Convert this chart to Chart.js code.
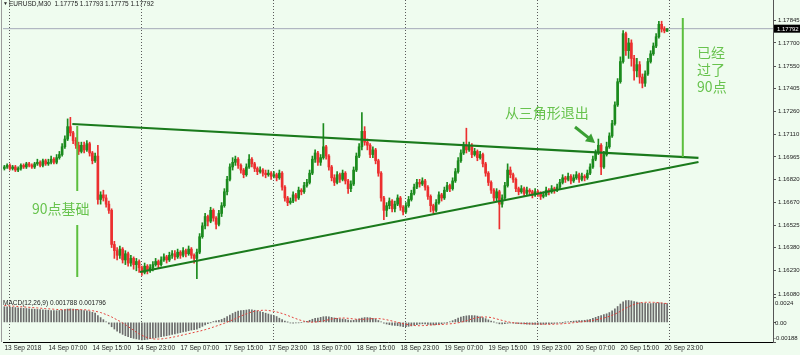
<!DOCTYPE html>
<html>
<head>
<meta charset="utf-8">
<script src="https://cdn.jsdelivr.net/npm/chart.js@4.4.0/dist/chart.umd.min.js"></script>
<style>
html, body { margin: 0; padding: 0; background: #effcef; }
#wrap { position: relative; width: 800px; height: 355px; overflow: hidden; }
#main { position: absolute; left: 0; top: 0; }
#macd { position: absolute; left: 0; top: 297px; }
#frame { position: absolute; left: 1px; top: 0; width: 1px; height: 342px; background: #9c9c9c; }
</style>
</head>
<body>
<div id="wrap">
  <canvas id="main" width="800" height="297"></canvas>
  <canvas id="macd" width="800" height="58"></canvas>
  <div id="frame"></div>
</div>
<script>
// EURUSD M30, 价格以点数记录 (价格 = 1.16000 + 点数 * 0.0001)
var BASE = 1.16
var PIP = 0.0001

var opens = [
  89,90,91,89,90,88,89,91,90,92, 91,90,92,93,91,94,92,93,95,93,
  96,98,103,108,116,112,107,104,100,104, 101,105,99,94,97,69,72,70,66,62,
  40,36,33,37,30,34,28,31,27,29, 25,22,26,23,25,27,29,27,30,32,
  30,33,34,32,35,33,36,34,37,33, 31,35,45,52,58,55,62,57,53,60,
  65,74,82,90,93,95,91,88,85,90, 95,92,89,87,88,86,85,86,84,85,
  83,86,77,70,67,68,72,70,75,74, 78,80,86,95,99,93,96,103,97,90,
  83,80,85,82,86,81,76,79,88,97, 103,113,106,104,98,101,94,86,70,62,
  65,68,63,66,70,64,61,65,69,73, 77,80,79,81,77,71,65,62,67,72,
  70,75,78,76,81,87,94,99,104,101, 104,98,100,96,98,92,86,80,75,70,
  74,66,70,78,88,85,82,76,74,76, 73,75,74,72,74,73,71,72,75,74,
  76,75,77,80,83,82,84,81,83,85, 82,84,83,86,90,95,99,104,90,98,
  103,110,118,130,145,158,176,165,170,160, 152,156,148,144,150,158,163,168,174,182,
  179,177.5
]
var highs = [
  91,92,92,91,91,90,92,92,93,93, 92,93,95,94,95,95,95,97,96,98,
  100,105,110,121,122,113,109,106,106,106, 107,106,100,99,104,74,75,72,68,63,
  42,38,39,38,36,35,33,32,31,30, 26,28,27,27,29,31,30,32,34,33,
  35,36,36,37,36,38,37,39,38,34, 37,47,54,60,59,64,63,58,62,67,
  76,84,92,96,97,96,92,89,92,98, 96,93,90,90,89,88,88,87,87,86,
  88,87,78,71,70,74,73,77,76,80, 82,88,97,101,100,98,118,104,98,91,
  85,87,86,88,87,82,81,90,99,105, 125,116,108,105,103,102,95,87,71,67,
  70,69,68,72,71,65,67,71,75,79, 82,82,83,82,78,72,66,69,74,73,
  77,80,79,83,89,96,101,106,115,106, 105,102,101,100,99,93,87,81,76,76,
  75,72,80,92,90,86,83,77,78,77, 77,76,75,76,75,74,74,77,76,78,
  77,79,82,85,84,86,85,85,87,86, 86,85,88,92,97,101,108,105,100,106,
  112,120,132,147,161,178,177,173,172,162, 160,158,150,152,160,165,170,176,184,184,
  180.5,179.3
]
var lows = [
  88,89,88,88,87,87,88,89,89,90, 89,89,91,90,90,91,91,92,92,92,
  95,97,102,107,110,105,102,98,99,99, 100,97,92,93,66,66,68,64,60,38,
  31,30,31,28,27,26,26,24,23,22, 20,21,21,22,23,26,25,26,29,28,
  29,31,30,31,31,32,32,33,31,28, 18,34,44,50,52,54,55,50,52,58,
  64,72,81,88,91,89,86,83,84,89, 90,87,85,86,84,83,84,82,83,81,
  82,75,68,65,66,67,68,69,72,73, 77,79,85,93,91,91,95,95,88,81,
  78,79,80,81,79,73,74,78,87,96, 101,104,101,96,96,92,84,68,56,58,
  63,61,61,65,62,59,60,64,68,72, 76,77,78,75,69,61,60,61,66,68,
  69,74,74,75,80,86,93,98,99,100, 96,97,94,95,90,84,78,73,68,68,
  50,64,69,77,83,80,74,72,73,71, 72,72,70,71,71,69,70,71,72,73,
  73,74,76,79,80,81,79,80,82,80, 81,81,82,85,89,94,98,85,89,97,
  102,109,117,129,144,157,162,160,155,146, 148,144,141,142,149,157,162,167,173,177,
  176.5,177.5
]
var closes = [
  90,91,89,90,88,89,91,90,92,91, 90,92,93,91,94,92,93,95,93,96,
  98,103,108,116,112,107,104,100,104,101, 105,99,94,97,69,72,70,66,62,40,
  36,33,37,30,34,28,31,27,29,25, 22,26,23,25,27,29,27,30,32,30,
  33,34,32,35,33,36,34,37,33,31, 35,45,52,58,55,62,57,53,60,65,
  74,82,90,93,95,91,88,85,90,95, 92,89,87,88,86,85,86,84,85,83,
  86,77,70,67,68,72,70,75,74,78, 80,86,95,99,93,96,103,97,90,83,
  80,85,82,86,81,76,79,88,97,103, 113,106,104,98,101,94,86,70,62,65,
  68,63,66,70,64,61,65,69,73,77, 80,79,81,77,71,65,62,67,72,70,
  75,78,76,81,87,94,99,104,101,104, 98,100,96,98,92,86,80,75,70,74,
  66,70,78,88,85,82,76,74,76,73, 75,74,72,74,73,71,72,75,74,76,
  75,77,80,83,82,84,81,83,85,82, 84,83,86,90,95,99,104,90,98,103,
  110,118,130,145,158,176,165,170,160,152, 156,148,144,150,158,163,168,174,182,179,
  177.8,179.2
]

// MACD(12,26,9), 单位 0.00001
var macdMain = [
  150,148,146,144,142,140,138,135,133,130, 128,126,124,122,120,118,116,114,113,112,
  114,118,122,128,130,128,124,120,117,114, 110,104,96,88,66,46,26,6,-16,-42,
  -64,-84,-100,-115,-128,-138,-146,-153,-158,-163, -168,-166,-162,-157,-152,-148,-143,-138,-133,-128,
  -122,-116,-110,-104,-98,-92,-86,-80,-74,-70, -64,-52,-38,-24,-12,-2,8,14,20,28,
  40,55,70,85,98,108,112,115,118,122, 120,116,110,104,96,88,80,72,64,56,
  40,26,12,2,-6,-8,-6,-4,0,4, 10,20,30,38,42,48,54,56,52,48,
  42,38,34,32,28,22,18,20,26,34, 42,46,46,44,38,30,18,4,-8,-16,
  -22,-28,-30,-32,-36,-40,-40,-38,-34,-28, -22,-16,-14,-16,-20,-22,-24,-22,-18,-14,
  -8,-2,6,16,28,40,50,58,62,66, 66,64,60,54,46,36,24,12,2,-6,
  -14,-16,-12,-8,-6,-8,-10,-12,-14,-16, -18,-18,-19,-20,-20,-19,-18,-16,-14,-12,
  -10,-7,-4,-1,2,6,9,12,14,16, 18,20,24,30,38,48,58,66,74,82,
  94,110,130,152,176,196,208,210,206,200, 194,188,184,182,180,180,182,184,186,184,
  181,178.8
]
var macdSignal = [
  162,160,158,156,154,152,150,148,146,144, 142,140,138,136,134,132,130,128,126,124,
  122,121,120,120,120,121,122,122,122,121, 119,116,112,107,101,94,85,75,64,52,
  38,24,10,-6,-22,-40,-58,-76,-94,-110, -124,-136,-146,-153,-158,-160,-160,-159,-156,-152,
  -148,-143,-138,-132,-126,-120,-114,-108,-102,-96, -90,-84,-77,-70,-62,-54,-45,-36,-27,-18,
  -9,2,13,24,36,48,60,72,82,92, 100,106,111,114,116,116,114,110,106,100,
  93,85,76,66,56,46,36,26,18,11, 6,3,2,3,6,10,15,20,26,32,
  36,39,41,42,41,39,36,33,30,29, 29,30,32,34,36,37,36,34,30,25,
  19,13,6,0,-6,-12,-18,-23,-27,-30, -32,-32,-31,-30,-28,-26,-24,-22,-21,-20,
  -18,-16,-14,-12,-8,-4,2,8,16,24, 32,40,46,50,52,52,50,46,40,33,
  26,19,12,6,1,-3,-6,-8,-10,-11, -12,-13,-14,-15,-16,-17,-17,-18,-18,-18,
  -17,-16,-15,-13,-11,-9,-6,-3,0,3, 6,9,12,15,19,24,29,35,42,50,
  58,68,79,92,106,121,136,150,162,172, 180,186,190,192,193,193,192,190,188,186,
  183,179.6
]

var timeLabels = ['13 Sep 2018','14 Sep 07:00','14 Sep 15:00','14 Sep 23:00','17 Sep 07:00','17 Sep 15:00',
  '17 Sep 23:00','18 Sep 07:00','18 Sep 15:00','18 Sep 23:00','19 Sep 07:00','19 Sep 15:00',
  '19 Sep 23:00','20 Sep 07:00','20 Sep 15:00','20 Sep 23:00']
var labelStep = 16
var daySeps = [2, 50, 98, 146, 194, 242]
var priceTicks = [1.17845,1.17700,1.17550,1.17405,1.17260,1.17110,1.16965,1.16820,1.16670,1.16525,1.16380,1.16230,1.16080]
var macdTicks = [0.0024, 0, -0.00188]

// 画线 (K线序号, 价格)
var upperLine = [[24.7, 1.17177], [252.4, 1.16958]]
var lowerLine = [[49.3, 1.16222], [252.4, 1.16932]]
var baseLine = [[26.5, 1.17164], [26.5, 1.16745], null, [26.5, 1.16525], [26.5, 1.16190]]
var doneLine = [[246.7, 1.17861], [246.7, 1.16964]]
var arrowPts = [[207.5, 1.17158], [214.8, 1.17055]]
var notes = [
  ['从三角形退出', 182.0, 1.17248],
  ['90点基础', 10.0, 1.16629],
  ['已经', 251.9, 1.17639],
  ['过了', 251.9, 1.17529],
  ['90点', 251.9, 1.17419]
]

var X_MIN = -0.5, X_MAX = 279.5
var SMALL = '"Liberation Sans", Arial, sans-serif'
var last = closes.length - 1

function price(v) { return Math.round((BASE + v * PIP) * 1e5) / 1e5 }
function toXY(arr) {
  return arr.map(function (p) { return p ? { x: p[0], y: p[1] } : { x: arr[0][0], y: null } })
}

var lastPrice = price(closes[last])
var barColors = closes.map(function (c, i) { return c >= opens[i] ? '#1b8a1d' : '#ec2f2f' })
var wickData = closes.map(function (c, i) { return { x: i, y: [price(lows[i]), price(highs[i])] } })
var bodyData = closes.map(function (c, i) { return { x: i, y: [price(opens[i]), price(c)] } })

var mainPlugin = {
  id: 'mainText',
  afterDraw: function (chart) {
    var c = chart.ctx, xs = chart.scales.x, ys = chart.scales.y
    c.save()
    // 标题
    c.fillStyle = '#222'
    c.textBaseline = 'middle'
    c.font = '5px ' + SMALL
    c.fillText('▼', 3, 4)
    c.font = '6.5px ' + SMALL
    var ohlc = [opens[last], highs[last], lows[last], closes[last]].map(function (v) { return price(v).toFixed(5) })
    c.fillText('EURUSD,M30  ' + ohlc.join(' '), 9, 4)

    // 箭头
    var x1 = xs.getPixelForValue(arrowPts[0][0]), y1 = ys.getPixelForValue(arrowPts[0][1])
    var x2 = xs.getPixelForValue(arrowPts[1][0]), y2 = ys.getPixelForValue(arrowPts[1][1])
    var ang = Math.atan2(y2 - y1, x2 - x1), dx = Math.cos(ang), dy = Math.sin(ang)
    c.strokeStyle = '#3a9f34'
    c.fillStyle = '#3a9f34'
    c.lineWidth = 3
    c.beginPath()
    c.moveTo(x1, y1)
    c.lineTo(x2 - dx * 7, y2 - dy * 7)
    c.stroke()
    c.beginPath()
    c.moveTo(x2, y2)
    c.lineTo(x2 - dx * 9 - dy * 5, y2 - dy * 9 + dx * 5)
    c.lineTo(x2 - dx * 9 + dy * 5, y2 - dy * 9 - dx * 5)
    c.closePath()
    c.fill()

    // 注释文字
    c.fillStyle = '#68c34e'
    c.font = '14px "Noto Sans CJK SC"'
    notes.forEach(function (n) {
      c.fillText(n[0], xs.getPixelForValue(n[1]), ys.getPixelForValue(n[2]))
    })

    // 当前价格标签
    var py = ys.getPixelForValue(lastPrice)
    c.fillStyle = '#000'
    c.fillRect(chart.chartArea.right + 1, py - 4, 27, 8)
    c.fillStyle = '#fff'
    c.font = '6px ' + SMALL
    c.fillText(lastPrice.toFixed(5), chart.chartArea.right + 4, py + 0.5)
    c.restore()
  }
}

var chart_main = new Chart(document.getElementById('main'), {
  type: 'bar',
  plugins: [mainPlugin],
  data: {
    datasets: [
      { type: 'line', data: [{ x: X_MIN, y: lastPrice }, { x: X_MAX, y: lastPrice }], borderColor: '#a4a9b8', borderWidth: 1, pointRadius: 0, order: 10 },
      { data: wickData, backgroundColor: barColors, barThickness: 1, grouped: false, order: 9 },
      { data: bodyData, backgroundColor: barColors, barThickness: 2, grouped: false, minBarLength: 1, order: 8 },
      { type: 'line', data: toXY(upperLine), borderColor: '#1a7a1c', borderWidth: 2.2, pointRadius: 0, order: 2 },
      { type: 'line', data: toXY(lowerLine), borderColor: '#1a7a1c', borderWidth: 2.2, pointRadius: 0, order: 2 },
      { type: 'line', data: toXY(baseLine), borderColor: '#5cbf3e', borderWidth: 2, pointRadius: 0, spanGaps: false, order: 1 },
      { type: 'line', data: toXY(doneLine), borderColor: '#5cbf3e', borderWidth: 2, pointRadius: 0, order: 1 }
    ]
  },
  options: {
    responsive: false,
    animation: false,
    layout: { padding: { left: 3, right: 0, top: 0, bottom: 0 } },
    plugins: { legend: { display: false }, tooltip: { enabled: false } },
    scales: {
      x: {
        type: 'linear', min: X_MIN, max: X_MAX, offset: false,
        afterBuildTicks: function (s) { s.ticks = daySeps.map(function (v) { return { value: v } }) },
        afterFit: function (s) { s.height = 0; s.paddingLeft = 0; s.paddingRight = 0 },
        ticks: { display: false },
        grid: { offset: false, color: '#5a5a5a', lineWidth: 1, drawTicks: false },
        border: { display: true, color: '#000', width: 1, dash: [1, 2] }
      },
      y: {
        position: 'right', min: 1.16061, max: 1.17977, beginAtZero: false,
        afterBuildTicks: function (s) { s.ticks = priceTicks.map(function (v) { return { value: v } }) },
        afterFit: function (s) { s.width = 27; s.paddingTop = 0; s.paddingBottom = 0 },
        ticks: {
          autoSkip: false, padding: 2, color: '#222',
          font: { size: 6, family: SMALL },
          callback: function (v) { return v.toFixed(5) }
        },
        grid: { drawOnChartArea: false, drawTicks: true, tickLength: 3, color: '#555' },
        border: { display: true, color: '#555', width: 1 }
      }
    }
  }
})

var macdPlugin = {
  id: 'macdText',
  afterDraw: function (chart) {
    var c = chart.ctx, ys = chart.scales.y
    var r = chart.chartArea.right
    c.save()
    c.fillStyle = '#222'
    c.textBaseline = 'middle'
    c.font = '6.5px ' + SMALL
    c.fillText('MACD(12,26,9) ' + (macdMain[last] / 1e5).toFixed(6) + ' ' + (macdSignal[last] / 1e5).toFixed(6), 3, 6)
    c.font = '6px ' + SMALL
    c.fillText('0.0024', r + 2, ys.getPixelForValue(macdTicks[0]) + 6)
    c.fillText('0.00', r + 2, ys.getPixelForValue(macdTicks[1]) + 1)
    c.fillText('-0.00188', r + 1, ys.getPixelForValue(macdTicks[2]) - 4)
    c.restore()
  }
}

var chart_macd = new Chart(document.getElementById('macd'), {
  type: 'bar',
  plugins: [macdPlugin],
  data: {
    datasets: [
      { type: 'line', data: macdSignal.map(function (v, i) { return { x: i, y: v / 1e5 } }), borderColor: '#e5413b', borderWidth: 1, borderDash: [2, 2], pointRadius: 0, order: 1 },
      { data: macdMain.map(function (v, i) { return { x: i, y: v / 1e5 } }), backgroundColor: '#6c6c6c', barThickness: 1, grouped: false, order: 2 }
    ]
  },
  options: {
    responsive: false,
    animation: false,
    layout: { padding: { left: 3, right: 0, top: 0, bottom: 0 } },
    plugins: { legend: { display: false }, tooltip: { enabled: false } },
    scales: {
      x: {
        type: 'linear', min: X_MIN, max: X_MAX, offset: false,
        afterBuildTicks: function (s) {
          var vals = timeLabels.map(function (t, k) { return k * labelStep }).concat(daySeps)
          vals.sort(function (a, b) { return a - b })
          s.ticks = vals.map(function (v) { return { value: v } })
        },
        afterFit: function (s) { s.height = 13; s.paddingLeft = 0; s.paddingRight = 0 },
        ticks: {
          autoSkip: false, maxRotation: 0, align: 'start', padding: 2, color: '#222',
          font: { size: 6.5, family: SMALL },
          callback: function (v) { return v % labelStep === 0 ? timeLabels[v / labelStep] : '' }
        },
        grid: {
          offset: false, drawTicks: false, lineWidth: 1,
          color: function (ctx) { return ctx.tick && daySeps.indexOf(ctx.tick.value) >= 0 ? '#5a5a5a' : 'rgba(0,0,0,0)' }
        },
        border: { display: true, color: '#000', width: 1, dash: [1, 2] }
      },
      y: {
        position: 'right', min: -0.00188, max: 0.00243, beginAtZero: false,
        afterBuildTicks: function (s) { s.ticks = macdTicks.map(function (v) { return { value: v } }) },
        afterFit: function (s) { s.width = 27; s.paddingTop = 0; s.paddingBottom = 0 },
        ticks: { display: false },
        grid: { drawOnChartArea: false, drawTicks: true, tickLength: 3, color: '#555' },
        border: { display: true, color: '#555', width: 1 }
      }
    }
  }
})
</script>
</body>
</html>
